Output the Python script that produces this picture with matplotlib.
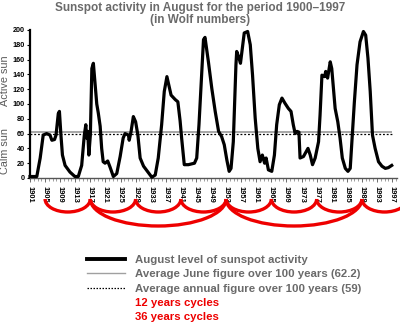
import matplotlib
matplotlib.use("Agg")
import matplotlib.pyplot as plt
from matplotlib.lines import Line2D
from matplotlib.patches import Arc
from matplotlib.ticker import MultipleLocator

# August sunspot numbers (Wolf)
years = [1901.0, 1902.8, 1903.7, 1904.5, 1905.4, 1906.3, 1906.8, 1907.5, 1907.9, 1908.5,
         1908.8, 1909.2, 1909.6, 1910.3, 1911.6, 1912.9, 1913.8, 1914.7, 1915.4, 1915.8,
         1916.0, 1916.3, 1916.6, 1917.0, 1917.4, 1917.8, 1918.2, 1918.7, 1919.1, 1919.6,
         1920.0, 1920.4, 1920.9, 1921.6, 1922.2, 1923.1, 1924.0, 1924.9, 1925.7, 1926.2,
         1927.1, 1927.3, 1927.8, 1928.4, 1929.0, 1929.6, 1930.2, 1931.1, 1932.4, 1933.3,
         1934.2, 1935.0, 1935.9, 1936.6, 1937.3, 1937.7, 1938.4, 1939.5, 1940.2, 1940.8,
         1941.2, 1941.9, 1943.0, 1944.6, 1945.2, 1945.8, 1946.5, 1947.0, 1947.4, 1948.3,
         1949.2, 1950.1, 1951.0, 1951.8, 1952.5, 1953.2, 1953.8, 1954.3, 1954.9, 1955.6,
         1955.8, 1956.3, 1956.8, 1957.2, 1957.8, 1958.7, 1959.4, 1960.0, 1960.7, 1961.4,
         1962.0, 1962.6, 1963.2, 1963.6, 1964.2, 1965.1, 1965.8, 1966.4, 1967.1, 1967.8,
         1968.6, 1969.5, 1970.2, 1970.8, 1971.3, 1971.8, 1972.3, 1972.6, 1973.5, 1974.7,
         1975.3, 1975.9, 1976.6, 1977.5, 1977.9, 1978.4, 1979.1, 1979.4, 1979.9, 1980.6,
         1981.0, 1981.9, 1982.6, 1983.2, 1983.8, 1984.6, 1985.3, 1985.9, 1986.3, 1987.0,
         1987.7, 1988.5, 1989.4, 1990.0, 1990.6, 1991.2, 1991.8, 1992.5, 1993.4, 1994.3,
         1995.2, 1996.0, 1996.9]
wolf = [2, 2, 27, 58, 60, 58, 51, 52, 58, 87,
        90, 58, 31, 17, 8, 2, 2, 17, 58, 72,
        54, 63, 31, 58, 148, 155, 130, 100, 88, 70,
        40, 22, 20, 23, 15, 2, 6, 29, 54, 60,
        58, 51, 63, 83, 76, 58, 27, 16, 7, 1,
        4, 27, 72, 117, 137, 128, 112, 106, 103, 77,
        54, 18, 18, 20, 27, 72, 140, 187, 190, 157,
        121, 90, 63, 56, 45, 24, 9, 13, 49, 153,
        171, 164, 155, 171, 196, 198, 180, 139, 81, 40,
        22, 31, 20, 27, 11, 9, 31, 72, 99, 108,
        101, 94, 90, 72, 60, 63, 62, 27, 29, 40,
        31, 18, 27, 49, 85, 139, 137, 144, 135, 157,
        148, 94, 76, 54, 27, 13, 9, 13, 45, 103,
        153, 184, 198, 193, 162, 117, 58, 40, 22, 16,
        13, 14, 17]

june_avg = 62.2
annual_avg = 59
tick_years = list(range(1901, 1998, 4))
y_ticks = list(range(0, 201, 20))
cycle_12_nodes = [1905, 1917, 1929, 1941, 1953, 1965, 1977, 1989, 2001]
cycle_36_nodes = [1917, 1953, 1989]

legend_labels = ['August level of sunspot activity',
                 'Average June figure over 100 years (62.2)',
                 'Average annual figure over 100 years (59)',
                 '12 years cycles',
                 '36 years cycles']

plt.rcParams['font.family'] = ['Liberation Sans', 'DejaVu Sans']
W, H = 400, 325
RED = '#ee0000'
GREY_TXT = '#6a6a6a'


def px(left, top, w, h):
    return [left / W, 1 - (top + h) / H, w / W, h / H]


fig = plt.figure(figsize=(W / 100, H / 100), dpi=100)

ax = fig.add_axes(px(30, 30, 367, 148))
ax.plot(years, wolf, color='black', lw=2.3, solid_joinstyle='round',
        clip_on=False, zorder=3)
ax.hlines(june_avg, years[0], years[-1], color='#a0a0a0', lw=1.3, zorder=2)
ax.hlines(annual_avg, years[0], years[-1], color='black', lw=0.9,
          linestyle=(0, (1.5, 1.5)), zorder=2)

ax.set_xlim(1901, 1998.3)
ax.set_ylim(0, 200)
ax.set_xticks(tick_years)
ax.xaxis.set_minor_locator(MultipleLocator(1))
ax.set_yticks(y_ticks)
for s in ['top', 'right']:
    ax.spines[s].set_visible(False)
ax.spines['left'].set_linewidth(1.6)
ax.spines['bottom'].set_color('#555555')
ax.spines['bottom'].set_linewidth(1.0)
ax.tick_params(axis='y', length=2.5, width=0.8, pad=1.2, labelsize=5.2)
ax.tick_params(axis='x', which='major', length=3, width=0.6, pad=2.5,
               labelsize=5.4, labelrotation=-90, color='#555555')
ax.tick_params(axis='x', which='minor', length=2, width=0.5, color='#777777')
for lbl in ax.get_xticklabels() + ax.get_yticklabels():
    lbl.set_fontweight('bold')

tr = ax.get_yaxis_transform()
ax.text(-0.068, 132, 'Active sun', rotation=90, ha='center', va='center',
        fontsize=7.8, color='#5a5a5a', transform=tr)
ax.text(-0.068, 36, 'Calm sun', rotation=90, ha='center', va='center',
        fontsize=7.8, color='#5a5a5a', transform=tr)

fig.text(0.5, 1 - 1.5 / H, 'Sunspot activity in August for the period 1900\u20131997\n(in Wolf numbers)',
         ha='center', va='top', fontsize=8.5, fontweight='bold', color=GREY_TXT,
         linespacing=1.05)

# cycle arcs below the axis
arc_ax = fig.add_axes(px(30, 199, 367, 34))
arc_ax.set_xlim(ax.get_xlim())
arc_ax.set_ylim(-34, 0)
arc_ax.axis('off')
for a, b in zip(cycle_12_nodes[:-1], cycle_12_nodes[1:]):
    arc_ax.add_patch(Arc(((a + b) / 2, 0), b - a, 26, theta1=180, theta2=360,
                         color=RED, lw=2.4, clip_on=False))
for a, b in zip(cycle_36_nodes[:-1], cycle_36_nodes[1:]):
    arc_ax.add_patch(Arc(((a + b) / 2, 0), b - a, 54, theta1=180, theta2=360,
                         color=RED, lw=2.4, clip_on=False))

handles = [Line2D([], [], color='black', lw=2.8),
           Line2D([], [], color='#a0a0a0', lw=1.0),
           Line2D([], [], color='black', lw=0.9, linestyle=(0, (1.2, 1.2))),
           Line2D([], [], linestyle='none'),
           Line2D([], [], linestyle='none')]
leg = fig.legend(handles, legend_labels, loc='upper left',
                 bbox_to_anchor=(87 / W, 1 - 255 / H), frameon=False,
                 prop={'weight': 'bold', 'size': 8.2}, handlelength=3.3,
                 handletextpad=0.95, labelspacing=0.38, borderpad=0,
                 borderaxespad=0)
for t, c in zip(leg.get_texts(), [GREY_TXT, GREY_TXT, GREY_TXT, RED, RED]):
    t.set_color(c)

fig.savefig('out.png', dpi=100)
